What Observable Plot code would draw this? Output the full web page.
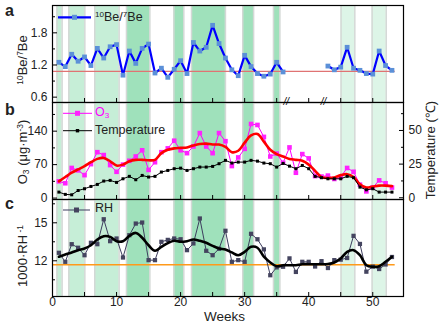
<!DOCTYPE html>
<html><head><meta charset="utf-8">
<script src="https://cdn.jsdelivr.net/npm/d3@7"></script>
<script src="https://cdn.jsdelivr.net/npm/@observablehq/plot@0.6"></script>
<style>
html,body{margin:0;padding:0;background:#fff;}
#chart{position:relative;width:444px;height:326px;font-family:"Liberation Sans",Arial,sans-serif;color:#222;overflow:hidden;}
#chart svg.plot-layer{position:absolute;left:0;top:0;}
.t{position:absolute;white-space:nowrap;line-height:1;}
.rot{position:absolute;white-space:nowrap;line-height:1;transform:translate(-50%,-50%) rotate(-90deg);}
.sup{font-size:0.65em;position:relative;top:-0.5em;}
.sub{font-size:0.65em;position:relative;top:0.25em;}
.pl{font-weight:bold;font-size:16px;}
</style></head><body><div id="chart"></div>
<script>
// ---------------- data ----------------
const weeks = [1,2,3,4,5,6,7,8,9,10,11,12,13,14,15,16,17,18,19,20,21,22,23,24,25,26,27,28,29,30,31,32,33,34,35,36,37,38,39,40,41,42,43,44,45,46,47,48,49,50,51,52,53];
const beRatio = [1.25,1.17,1.40,1.27,1.35,1.19,1.51,1.33,1.54,1.58,1.01,1.46,1.23,1.51,1.59,1.05,1.14,0.97,1.12,1.28,1.04,1.62,1.46,1.53,1.94,1.60,1.33,1.11,1.00,1.38,1.17,1.04,0.99,1.03,1.25,1.07,
  null,null,null,null,null,null,
  1.18,1.11,1.16,1.53,1.14,1.10,1.04,1.03,1.46,1.19,1.10];
const o3 = [35,31,63,58,48,71,96,90,69,55,70,78,87,100,59,75,96,104,120,100,94,108,136,108,94,136,119,67,85,103,155,153,128,87,93,74,106,53,92,83,46,45,47,40,44,63,55,28,14,22,37,31,22];
const o3Smooth = [35,44,53,60,67,75,82,84,77,68,70,77,80,80,79,80,94,101,104,105,106,110,113,114,112,112,107,96,99,116,131,134,118,101,92,87,82,80,78,70,57,44,42,43,48,50,44,29,22,24,26,26,25];
const temperature = [4.2,2.5,2.2,5.4,6.7,8.4,9.9,12.4,12.9,11.4,14.1,15.9,13.4,16.6,15.4,15.9,19.1,20.3,21.6,22.0,20.3,21.6,22.8,22.8,23.3,25.3,27.8,25.8,26.5,26.5,27.8,27.2,25.8,25.3,22.8,25.5,23.5,21.6,24.0,21.6,15.9,14.9,14.1,14.1,14.1,15.9,14.9,7.9,5.9,6.7,4.2,4.2,4.2];
const rhInv = [12.63,11.92,13.31,13.03,12.44,13.42,13.31,15.28,13.55,13.76,12.26,14.02,14.94,15.02,12.05,12.05,13.50,13.65,13.76,13.70,12.84,13.37,15.34,12.79,12.44,12.95,14.37,11.92,12.05,11.92,14.13,13.70,12.90,10.86,11.48,11.53,12.19,11.12,11.92,11.92,11.55,11.97,11.43,12.05,12.09,12.22,13.97,13.33,11.14,11.54,11.35,11.71,12.30];
const rhSmooth = [12.32,12.50,12.66,12.84,12.97,13.23,13.68,13.94,13.89,13.55,13.55,13.97,14.20,13.82,13.23,12.79,13.10,13.40,13.58,13.50,13.55,13.68,13.58,13.42,13.18,12.97,12.89,12.66,12.44,12.71,13.10,13.03,12.32,11.87,11.57,11.65,11.65,11.65,11.73,11.73,11.73,11.73,11.75,11.87,12.18,12.71,12.84,12.44,11.65,11.53,11.57,11.92,12.32];
const beReference = 1.08;
const rhReference = 11.68;
const referenceSpan = [0, 53.5];
const bandStart = [0.7,2.55,6.6,11.55,18.95,21.7,29.7,34.5,45.05,49.9];
const bandEnd   = [1.5,5.05,10.4,15.2,20.5,27.0,31.4,35.5,47.2,52.1];
const bandKind  = ["light","light","light","dark","dark","dark","dark","dark","pale","pale"];
const breakWeeks = [36.5, 42.3];
const xTicksMinor = [0,5,10,15,20,25,30,35,40,45,50];
const xTicksLabel = [0,10,20,30,40,50];
const beTicks = [0.6,1.2,1.8], beMinor = [0.9,1.5,2.1];
const o3Ticks = [0,70,140], o3Minor = [35,105,175];
const tTicks = [0,25,50], tMinor = [12.5,37.5,62.5];
const rhTicks = [12,15], rhMinor = [10.5,13.5,16.5];

// ---------------- build ----------------
const W = 444, H = 326, ML = 52, MR = 41;
const xDomain = [0, 54.8];
const FONT = '"Liberation Sans", Arial, sans-serif';
const bandColor = {light: "#c6eed7", dark: "#9fe1bb", pale: "#ddf5e7"};
const rows = weeks.map((w, i) => ({w, be: beRatio[i], o3: o3[i], o3s: o3Smooth[i], t: temperature[i], rh: rhInv[i], rhs: rhSmooth[i]}));
const bands = bandStart.map((s, i) => ({x1: s, x2: bandEnd[i], fill: bandColor[bandKind[i]]}));
const bandEdges = bandStart.concat(bandEnd);

function bandMarks() {
  return [
    Plot.rect(bands, {x1: "x1", x2: "x2", fill: "fill"}),
    Plot.ruleX(bandEdges, {x: d => d, stroke: "#d3d8d5", strokeWidth: 1.5})
  ];
}
function yAxes(major, minor, anchor = "left") {
  return [
    Plot.axisY(major, {anchor, label: null, tickSize: -5, tickPadding: 10, fontSize: 12, fill: "#222", stroke: "#000"}),
    Plot.axisY(minor, {anchor, label: null, tickSize: -3, text: null, stroke: "#000"})
  ];
}
function layer(top, bottom, yDomain, marks, xAxis = true) {
  return Plot.plot({
    width: W, height: H, marginTop: top, marginBottom: H - bottom, marginLeft: ML, marginRight: MR,
    x: xAxis ? {domain: xDomain, label: null} : {domain: xDomain, axis: null, label: null},
    y: {domain: yDomain, label: null},
    color: {type: "identity"},
    style: {background: "transparent", fontFamily: FONT, fontSize: "12px", color: "#222", overflow: "visible"},
    marks
  });
}

const chart = document.getElementById("chart");
const add = (svg) => { svg.classList.add("plot-layer"); chart.appendChild(svg); };

// panel a
add(layer(5, 102, [0.5, 2.31], [
  ...bandMarks(),
  Plot.ruleY([beReference], {x1: referenceSpan[0], x2: referenceSpan[1], stroke: "#e07373", strokeWidth: 1.2}),
  Plot.line(rows, {x: "w", y: "be", stroke: "#0000ff", strokeWidth: 2.2}),
  Plot.dot(rows, {x: "w", y: "be", symbol: "square", r: 2.7, fill: "#5b90d8"}),
  Plot.frame({stroke: "#000", strokeWidth: 1.2}),
  ...yAxes(beTicks, beMinor),
  Plot.axisX(xTicksMinor, {label: null, tickSize: -4, text: null, stroke: "#000"})
]));

// panel b (O3)
add(layer(102, 199, [-3, 200], [
  ...bandMarks(),
  Plot.line(rows, {x: "w", y: "o3", stroke: "#ff00ff", strokeWidth: 1}),
  Plot.dot(rows, {x: "w", y: "o3", symbol: "square", r: 2.6, fill: "#ff22ff"}),
  Plot.line(rows, {x: "w", y: "o3s", curve: "catmull-rom", stroke: "#ff0000", strokeWidth: 2.6}),
  Plot.frame({stroke: "#000", strokeWidth: 1.2}),
  ...yAxes(o3Ticks, o3Minor),
  Plot.axisX(xTicksMinor, {label: null, tickSize: -4, text: null, stroke: "#000"}),
  Plot.text(breakWeeks, {x: d => d, frameAnchor: "top", text: () => "//", fontStyle: "italic", fontSize: 10, fill: "#000", lineAnchor: "middle", dy: -1})
]));

// panel b (temperature, right axis)
add(layer(102, 199, [-1.3, 70.8], [
  Plot.line(rows, {x: "w", y: "t", stroke: "#000", strokeWidth: 1}),
  Plot.dot(rows, {x: "w", y: "t", symbol: "square", r: 1.7, fill: "#000"}),
  ...yAxes(tTicks, tMinor, "right")
], false));

// panel c
add(layer(199, 296, [9.18, 16.84], [
  ...bandMarks(),
  Plot.ruleY([rhReference], {x1: referenceSpan[0], x2: referenceSpan[1], stroke: "#ff9a1a", strokeWidth: 1.5}),
  Plot.line(rows, {x: "w", y: "rh", stroke: "#3d3d5e", strokeWidth: 1}),
  Plot.dot(rows, {x: "w", y: "rh", symbol: "square", r: 2.4, fill: "#44445f"}),
  Plot.line(rows, {x: "w", y: "rhs", curve: "catmull-rom", stroke: "#000", strokeWidth: 2.6}),
  Plot.frame({stroke: "#000", strokeWidth: 1.2}),
  ...yAxes(rhTicks, rhMinor),
  Plot.axisX(xTicksMinor, {label: null, tickSize: -4, text: null, stroke: "#000"}),
  Plot.axisX(xTicksLabel, {label: null, tickSize: 0, tickPadding: 1, fontSize: 12, fill: "#222"})
]));

// ---------------- text & legends ----------------
function html(s) { chart.insertAdjacentHTML("beforeend", s); }
html('<div class="t pl" style="left:5px;top:3px">a</div>');
html('<div class="t pl" style="left:5px;top:102px">b</div>');
html('<div class="t pl" style="left:5px;top:196px">c</div>');

html('<div class="rot" style="left:22px;top:60px;font-size:13px"><span class="sup">10</span>Be/<span class="sup">7</span>Be</div>');
html('<div class="rot" style="left:22px;top:152px;font-size:13px">O<span class="sub">3</span> (μg·m<span class="sup">-3</span>)</div>');
html('<div class="rot" style="left:22px;top:256px;font-size:13px">1000·RH<span class="sup"> -1</span></div>');
html('<div class="rot" style="left:430px;top:150px;font-size:13px">Temperature (℃)</div>');
html('<div class="t" style="left:204px;top:310px;font-size:13.5px">Weeks</div>');

function legend(x1, x2, y, stroke, sw, fill, side) {
  const mx = (x1 + x2) / 2;
  html(`<svg style="position:absolute;left:0;top:0;overflow:visible" width="1" height="1"><line x1="${x1}" x2="${x2}" y1="${y}" y2="${y}" stroke="${stroke}" stroke-width="${sw}"/><rect x="${mx - side/2}" y="${y - side/2}" width="${side}" height="${side}" fill="${fill}"/></svg>`);
}
legend(58, 91, 17.3, "#0000ff", 2.2, "#5b90d8", 5);
html('<div class="t" style="left:95px;top:11px;font-size:12.5px"><span class="sup">10</span>Be/<span class="sup">7</span>Be</div>');
legend(63, 92, 113.3, "#ff00ff", 1, "#ff22ff", 5);
html('<div class="t" style="left:95px;top:105.5px;font-size:12.5px;color:#ff00ff">O<span class="sub">3</span></div>');
legend(63, 92, 130.7, "#000", 1, "#000", 3.4);
html('<div class="t" style="left:95px;top:123.7px;font-size:12.5px">Temperature</div>');
legend(63, 90, 210, "#3d3d5e", 1, "#44445f", 5);
html('<div class="t" style="left:95px;top:201.5px;font-size:12.5px">RH</div>');
</script></body></html>
